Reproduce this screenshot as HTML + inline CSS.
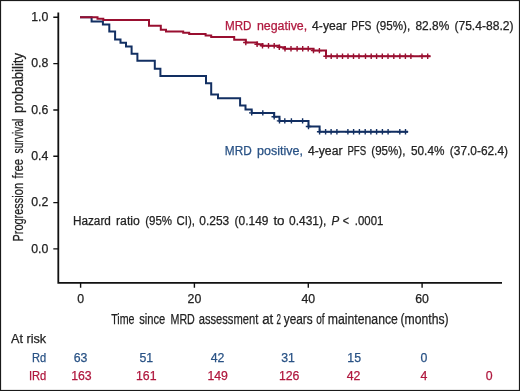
<!DOCTYPE html>
<html><head><meta charset="utf-8"><style>
html,body{margin:0;padding:0;background:#fff;}
body{width:520px;height:391px;overflow:hidden;}
svg{display:block;will-change:transform;font-family:"Liberation Sans",sans-serif;}
text{stroke-width:0.25px;}
</style></head><body>
<svg width="520" height="391" viewBox="0 0 520 391">
<rect x="0" y="0" width="520" height="391" fill="#fff"/>
<rect x="0.5" y="0.5" width="519" height="390" fill="none" stroke="#1a1a1a" stroke-width="1.2"/>
<g fill="#222" stroke="#222" font-size="12.3">
<text x="48.3" y="21.0" text-anchor="end">1.0</text>
<text x="48.3" y="67.3" text-anchor="end">0.8</text>
<text x="48.3" y="113.7" text-anchor="end">0.6</text>
<text x="48.3" y="160.0" text-anchor="end">0.4</text>
<text x="48.3" y="206.3" text-anchor="end">0.2</text>
<text x="48.3" y="252.6" text-anchor="end">0.0</text>
<text x="80.6" y="303.4" text-anchor="middle">0</text>
<text x="194.4" y="303.4" text-anchor="middle">20</text>
<text x="308.3" y="303.4" text-anchor="middle">40</text>
<text x="422.1" y="303.4" text-anchor="middle">60</text>
</g>
<path d="M58.3 12.6V282.8H502" fill="none" stroke="#111" stroke-width="1.8"/>
<path d="M53.3 17.3H58.3 M53.3 63.6H58.3 M53.3 110.0H58.3 M53.3 156.3H58.3 M53.3 202.6H58.3 M53.3 248.9H58.3 M80.6 282.8V287.8 M194.4 282.8V287.8 M308.3 282.8V287.8 M422.1 282.8V287.8" fill="none" stroke="#111" stroke-width="1.4"/>
<path d="M80 17.3 H91.6 V21.6 H102.9 V24.5 H109.3 V31.5 H115.1 V39.6 H120.5 V42.7 H126 V46.6 H131.6 V53.8 H137.4 V60.8 H154.8 V68.8 H160.4 V76.1 H206 V83.2 H211.2 V94.6 H218 V98.3 H240.1 V105.5 H245.5 V109.6 H251.7 V112.9 H274.2 V116.7 H279.5 V120.9 H308.5 V126.5 H319.6 V131.8 H408" fill="none" stroke="#122f62" stroke-width="2"/>
<path d="M249.0 112.9H254.4M251.7 110.2V115.6 M260.1 112.9H265.5M262.8 110.2V115.6 M271.5 116.7H276.9M274.2 114.0V119.4 M276.8 120.9H282.2M279.5 118.2V123.6 M282.1 120.9H287.5M284.8 118.2V123.6 M288.7 120.9H294.1M291.4 118.2V123.6 M299.9 120.9H305.3M302.6 118.2V123.6 M305.8 126.5H311.2M308.5 123.8V129.2 M316.9 131.8H322.3M319.6 129.1V134.5 M322.9 131.8H328.3M325.6 129.1V134.5 M328.4 131.8H333.8M331.1 129.1V134.5 M334.2 131.8H339.6M336.9 129.1V134.5 M345.2 131.8H350.6M347.9 129.1V134.5 M350.9 131.8H356.3M353.6 129.1V134.5 M356.7 131.8H362.1M359.4 129.1V134.5 M362.5 131.8H367.9M365.2 129.1V134.5 M368.2 131.8H373.6M370.9 129.1V134.5 M373.9 131.8H379.3M376.6 129.1V134.5 M379.7 131.8H385.1M382.4 129.1V134.5 M385.4 131.8H390.8M388.1 129.1V134.5 M397.1 131.8H402.5M399.8 129.1V134.5 M402.8 131.8H408.2M405.5 129.1V134.5" fill="none" stroke="#122f62" stroke-width="1.4"/>
<path d="M80 17.3 H97.5 V18.7 H103.3 V19.9 H149 V25.8 H160.8 V29.8 H166 V31.6 H183.2 V32.8 H189.2 V34.1 H205.6 V35.4 H211.2 V37.0 H234.2 V39.7 H245.8 V42.5 H257.1 V44.2 H262.5 V45.8 H279.3 V47.3 H285 V48.7 H313.5 V50.6 H326 V56.2 H430.5" fill="none" stroke="#990f30" stroke-width="2"/>
<path d="M243.1 42.5H248.5M245.8 39.8V45.2 M254.4 44.2H259.8M257.1 41.5V46.9 M259.8 45.8H265.2M262.5 43.1V48.5 M265.8 45.8H271.2M268.5 43.1V48.5 M271.5 45.8H276.9M274.2 43.1V48.5 M276.6 47.3H282.0M279.3 44.6V50.0 M282.3 48.7H287.7M285.0 46.0V51.4 M288.3 48.7H293.7M291.0 46.0V51.4 M294.4 48.7H299.8M297.1 46.0V51.4 M300.0 48.7H305.4M302.7 46.0V51.4 M305.5 48.7H310.9M308.2 46.0V51.4 M310.8 50.6H316.2M313.5 47.9V53.3 M316.7 50.6H322.1M319.4 47.9V53.3 M323.3 56.2H328.7M326.0 53.5V58.9 M328.5 56.2H333.9M331.2 53.5V58.9 M334.4 56.2H339.8M337.1 53.5V58.9 M339.8 56.2H345.2M342.5 53.5V58.9 M345.3 56.2H350.7M348.0 53.5V58.9 M350.8 56.2H356.2M353.5 53.5V58.9 M356.3 56.2H361.7M359.0 53.5V58.9 M362.8 56.2H368.2M365.5 53.5V58.9 M368.5 56.2H373.9M371.2 53.5V58.9 M373.9 56.2H379.3M376.6 53.5V58.9 M379.6 56.2H385.0M382.3 53.5V58.9 M385.3 56.2H390.7M388.0 53.5V58.9 M391.1 56.2H396.5M393.8 53.5V58.9 M397.2 56.2H402.6M399.9 53.5V58.9 M402.7 56.2H408.1M405.4 53.5V58.9 M408.2 56.2H413.6M410.9 53.5V58.9 M419.3 56.2H424.7M422.0 53.5V58.9 M425.0 56.2H430.4M427.7 53.5V58.9" fill="none" stroke="#990f30" stroke-width="1.4"/>
<text x="225.00" y="30.3" font-size="12.3" fill="#b0183e" stroke="#b0183e" textLength="26.50" lengthAdjust="spacingAndGlyphs">MRD</text>
<text x="256.90" y="30.3" font-size="12.3" fill="#b0183e" stroke="#b0183e" textLength="50.30" lengthAdjust="spacingAndGlyphs">negative,</text>
<text x="312.10" y="30.3" font-size="12.3" fill="#222" stroke="#222" textLength="34.39" lengthAdjust="spacingAndGlyphs">4-year</text>
<text x="351.30" y="30.3" font-size="12.3" fill="#222" stroke="#222" textLength="20.10" lengthAdjust="spacingAndGlyphs">PFS</text>
<text x="376.00" y="30.3" font-size="12.3" fill="#222" stroke="#222" textLength="34.20" lengthAdjust="spacingAndGlyphs">(95%),</text>
<text x="415.50" y="30.3" font-size="12.3" fill="#222" stroke="#222" textLength="33.71" lengthAdjust="spacingAndGlyphs">82.8%</text>
<text x="454.40" y="30.3" font-size="12.3" fill="#222" stroke="#222" textLength="59.10" lengthAdjust="spacingAndGlyphs">(75.4-88.2)</text>
<text x="224.80" y="155.4" font-size="12.3" fill="#295285" stroke="#295285" textLength="26.90" lengthAdjust="spacingAndGlyphs">MRD</text>
<text x="257.00" y="155.4" font-size="12.3" fill="#295285" stroke="#295285" textLength="45.91" lengthAdjust="spacingAndGlyphs">positive,</text>
<text x="307.90" y="155.4" font-size="12.3" fill="#222" stroke="#222" textLength="34.59" lengthAdjust="spacingAndGlyphs">4-year</text>
<text x="347.40" y="155.4" font-size="12.3" fill="#222" stroke="#222" textLength="18.80" lengthAdjust="spacingAndGlyphs">PFS</text>
<text x="371.30" y="155.4" font-size="12.3" fill="#222" stroke="#222" textLength="34.10" lengthAdjust="spacingAndGlyphs">(95%),</text>
<text x="411.00" y="155.4" font-size="12.3" fill="#222" stroke="#222" textLength="33.41" lengthAdjust="spacingAndGlyphs">50.4%</text>
<text x="449.80" y="155.4" font-size="12.3" fill="#222" stroke="#222" textLength="58.20" lengthAdjust="spacingAndGlyphs">(37.0-62.4)</text>
<text x="72.90" y="225.1" font-size="12.3" fill="#222" stroke="#222" textLength="38.00" lengthAdjust="spacingAndGlyphs">Hazard</text>
<text x="116.00" y="225.1" font-size="12.3" fill="#222" stroke="#222" textLength="23.80" lengthAdjust="spacingAndGlyphs">ratio</text>
<text x="145.20" y="225.1" font-size="12.3" fill="#222" stroke="#222" textLength="26.91" lengthAdjust="spacingAndGlyphs">(95%</text>
<text x="176.50" y="225.1" font-size="12.3" fill="#222" stroke="#222" textLength="18.40" lengthAdjust="spacingAndGlyphs">CI),</text>
<text x="199.30" y="225.1" font-size="12.3" fill="#222" stroke="#222" textLength="29.91" lengthAdjust="spacingAndGlyphs">0.253</text>
<text x="234.60" y="225.1" font-size="12.3" fill="#222" stroke="#222" textLength="33.91" lengthAdjust="spacingAndGlyphs">(0.149</text>
<text x="273.40" y="225.1" font-size="12.3" fill="#222" stroke="#222" textLength="11.20" lengthAdjust="spacingAndGlyphs">to</text>
<text x="289.00" y="225.1" font-size="12.3" fill="#222" stroke="#222" textLength="37.30" lengthAdjust="spacingAndGlyphs">0.431),</text>
<text x="342.70" y="225.1" font-size="12.3" fill="#222" stroke="#222" textLength="6.30" lengthAdjust="spacingAndGlyphs">&lt;</text>
<text x="354.80" y="225.1" font-size="12.3" fill="#222" stroke="#222" textLength="28.51" lengthAdjust="spacingAndGlyphs">.0001</text>
<text x="331.50" y="225.1" font-size="12.3" fill="#222" stroke="#222" textLength="7.70" lengthAdjust="spacingAndGlyphs" font-style="italic">P</text>
<text x="111.20" y="324.3" font-size="14.9" fill="#222" stroke="#222" textLength="23.30" lengthAdjust="spacingAndGlyphs">Time</text>
<text x="139.20" y="324.3" font-size="14.9" fill="#222" stroke="#222" textLength="26.11" lengthAdjust="spacingAndGlyphs">since</text>
<text x="170.50" y="324.3" font-size="14.9" fill="#222" stroke="#222" textLength="24.30" lengthAdjust="spacingAndGlyphs">MRD</text>
<text x="198.70" y="324.3" font-size="14.9" fill="#222" stroke="#222" textLength="59.61" lengthAdjust="spacingAndGlyphs">assessment</text>
<text x="262.20" y="324.3" font-size="14.9" fill="#222" stroke="#222" textLength="11.10" lengthAdjust="spacingAndGlyphs">at</text>
<text x="276.50" y="324.3" font-size="14.9" fill="#222" stroke="#222" textLength="4.50" lengthAdjust="spacingAndGlyphs">2</text>
<text x="283.80" y="324.3" font-size="14.9" fill="#222" stroke="#222" textLength="28.90" lengthAdjust="spacingAndGlyphs">years</text>
<text x="316.20" y="324.3" font-size="14.9" fill="#222" stroke="#222" textLength="8.38" lengthAdjust="spacingAndGlyphs">of</text>
<text x="327.80" y="324.3" font-size="14.9" fill="#222" stroke="#222" textLength="70.10" lengthAdjust="spacingAndGlyphs">maintenance</text>
<text x="400.50" y="324.3" font-size="14.9" fill="#222" stroke="#222" textLength="48.10" lengthAdjust="spacingAndGlyphs">(months)</text>
<text x="11.00" y="343.1" font-size="12.3" fill="#222" stroke="#222" textLength="35.17" lengthAdjust="spacingAndGlyphs">At risk</text>
<g transform="translate(22.8 241.6) rotate(-90)">
<text x="0.00" y="0" font-size="14.9" fill="#222" stroke="#222" textLength="58.60" lengthAdjust="spacingAndGlyphs">Progression</text>
<text x="63.10" y="0" font-size="14.9" fill="#222" stroke="#222" textLength="19.50" lengthAdjust="spacingAndGlyphs">free</text>
<text x="88.10" y="0" font-size="14.9" fill="#222" stroke="#222" textLength="34.90" lengthAdjust="spacingAndGlyphs">survival</text>
<text x="128.70" y="0" font-size="14.9" fill="#222" stroke="#222" textLength="60.00" lengthAdjust="spacingAndGlyphs">probability</text>
</g>
<g font-size="12.3">
<text x="32.10" y="361.7" font-size="12.3" fill="#295285" stroke="#295285" textLength="14.20" lengthAdjust="spacingAndGlyphs">Rd</text>
<text x="28.90" y="379.9" font-size="12.3" fill="#b0183e" stroke="#b0183e" textLength="17.40" lengthAdjust="spacingAndGlyphs">IRd</text>
<g fill="#295285" stroke="#295285">
<text x="80.6" y="361.7" text-anchor="middle">63</text>
<text x="146.3" y="361.7" text-anchor="middle">51</text>
<text x="217.5" y="361.7" text-anchor="middle">42</text>
<text x="288.0" y="361.7" text-anchor="middle">31</text>
<text x="354.2" y="361.7" text-anchor="middle">15</text>
<text x="423.8" y="361.7" text-anchor="middle">0</text>
</g>
<g fill="#b0183e" stroke="#b0183e">
<text x="81.4" y="379.9" text-anchor="middle">163</text>
<text x="146.3" y="379.9" text-anchor="middle">161</text>
<text x="217.7" y="379.9" text-anchor="middle">149</text>
<text x="289.2" y="379.9" text-anchor="middle">126</text>
<text x="353.6" y="379.9" text-anchor="middle">42</text>
<text x="423.8" y="379.9" text-anchor="middle">4</text>
<text x="489.2" y="379.9" text-anchor="middle">0</text>
</g>
</g>
</svg>
</body></html>
